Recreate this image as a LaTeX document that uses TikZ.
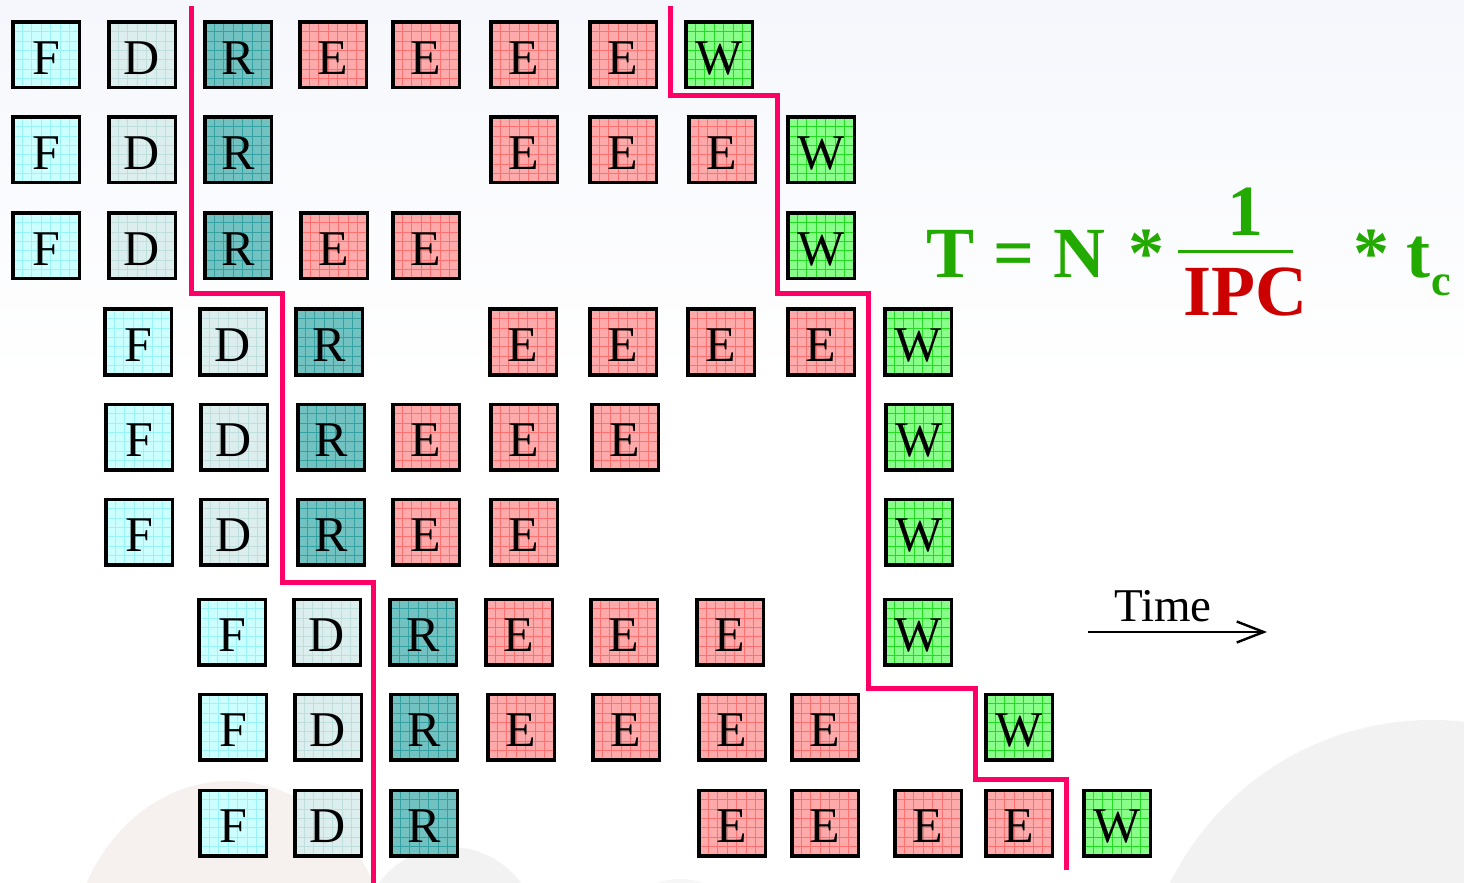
\documentclass[tikz,border=0pt]{standalone}
\usepackage{fontspec}
\setmainfont{Liberation Serif}
\usetikzlibrary{calc,arrows.meta}
\definecolor{fcol}{HTML}{CCFFFF}\definecolor{fgrid}{HTML}{99F4F8}
\definecolor{dcol}{HTML}{DDEEEE}\definecolor{dgrid}{HTML}{BFDEDE}
\definecolor{rcol}{HTML}{72C2C2}\definecolor{rgrid}{HTML}{34A2A2}
\definecolor{ecol}{HTML}{FFAAAA}\definecolor{egrid}{HTML}{FF7070}
\definecolor{wcol}{HTML}{88FF88}\definecolor{wgrid}{HTML}{22DD22}
\definecolor{divline}{HTML}{FF0066}
\definecolor{fgreen}{HTML}{22AA00}
\definecolor{fred}{HTML}{CC0000}
\definecolor{bgtop}{HTML}{F5F7FC}
\definecolor{bgred}{HTML}{F6F0EE}
\definecolor{bggrey}{HTML}{F2F2F2}
\tikzset{
  stg/.style 2 args={draw=black, line width=1.75pt, fill=#1,
    minimum width=33.25pt, minimum height=32.75pt, inner sep=0pt,
    text height=19.5pt, text depth=0pt,
    font=\fontsize{25}{25}\selectfont,
    path picture={
      \foreach \i in {1,...,6}{
        \draw[draw=#2, line width=0.45pt]
          ($(path picture bounding box.north west)!\i/7!(path picture bounding box.north east)$) --
          ($(path picture bounding box.south west)!\i/7!(path picture bounding box.south east)$);
        \draw[draw=#2, line width=0.45pt]
          ($(path picture bounding box.north west)!\i/7!(path picture bounding box.south west)$) --
          ($(path picture bounding box.north east)!\i/7!(path picture bounding box.south east)$);
      }}},
  fstage/.style={stg={fcol}{fgrid}},
  dstage/.style={stg={dcol}{dgrid}},
  rstage/.style={stg={rcol}{rgrid}},
  estage/.style={stg={ecol}{egrid}},
  wstage/.style={stg={wcol}{wgrid}},
  divider/.style={draw=divline, line width=2.5pt, line join=miter},
  formula/.style={inner sep=0pt, font=\fontsize{36}{36}\selectfont\bfseries, text=fgreen},
}
\begin{document}
\begin{tikzpicture}[x=0.5pt,y=-0.5pt]
\useasboundingbox (0,0) rectangle (1464,883);
\clip (0,0) rectangle (1464,883);
% background
\fill[white] (0,0) rectangle (1464,883);
\begin{scope}[yscale=-1]
  \shade[top color=bgtop, bottom color=white] (0,0) rectangle (1464,-380);
\end{scope}
\fill[bgred] (230,965) ellipse [x radius=80pt, y radius=92pt];
\fill[bggrey] (450,935) circle [radius=44pt];
\fill[bggrey!70!white] (680,945) circle [radius=33pt];
\fill[bggrey] (1432,1012) circle [radius=146pt];

% row 1
\node[fstage] (r1f) at (46,55) {F};
\node[dstage] (r1d) at (142,55) {D};
\node[rstage] (r1r) at (238,55) {R};
\node[estage] (r1e1) at (333,55) {E};
\node[estage] (r1e2) at (426,55) {E};
\node[estage] (r1e3) at (524,55) {E};
\node[estage] (r1e4) at (623,55) {E};
\node[wstage] (r1w) at (719,55) {W};
% row 2
\node[fstage] (r2f) at (46,150) {F};
\node[dstage] (r2d) at (142,150) {D};
\node[rstage] (r2r) at (238,150) {R};
\node[estage] (r2e1) at (524,150) {E};
\node[estage] (r2e2) at (623,150) {E};
\node[estage] (r2e3) at (722,150) {E};
\node[wstage] (r2w) at (821,150) {W};
% row 3
\node[fstage] (r3f) at (46,246) {F};
\node[dstage] (r3d) at (142,246) {D};
\node[rstage] (r3r) at (238,246) {R};
\node[estage] (r3e1) at (334,246) {E};
\node[estage] (r3e2) at (426,246) {E};
\node[wstage] (r3w) at (821,246) {W};
% row 4
\node[fstage] (r4f) at (138,342) {F};
\node[dstage] (r4d) at (233,342) {D};
\node[rstage] (r4r) at (329,342) {R};
\node[estage] (r4e1) at (523,342) {E};
\node[estage] (r4e2) at (623,342) {E};
\node[estage] (r4e3) at (721,342) {E};
\node[estage] (r4e4) at (821,342) {E};
\node[wstage] (r4w) at (918,342) {W};
% row 5
\node[fstage] (r5f) at (139,437) {F};
\node[dstage] (r5d) at (234,437) {D};
\node[rstage] (r5r) at (331,437) {R};
\node[estage] (r5e1) at (426,437) {E};
\node[estage] (r5e2) at (524,437) {E};
\node[estage] (r5e3) at (625,437) {E};
\node[wstage] (r5w) at (919,437) {W};
% row 6
\node[fstage] (r6f) at (139,532) {F};
\node[dstage] (r6d) at (234,532) {D};
\node[rstage] (r6r) at (331,532) {R};
\node[estage] (r6e1) at (426,532) {E};
\node[estage] (r6e2) at (524,532) {E};
\node[wstage] (r6w) at (919,532) {W};
% row 7
\node[fstage] (r7f) at (232,632) {F};
\node[dstage] (r7d) at (327,632) {D};
\node[rstage] (r7r) at (423,632) {R};
\node[estage] (r7e1) at (519,632) {E};
\node[estage] (r7e2) at (624,632) {E};
\node[estage] (r7e3) at (730,632) {E};
\node[wstage] (r7w) at (918,632) {W};
% row 8
\node[fstage] (r8f) at (233,727) {F};
\node[dstage] (r8d) at (328,727) {D};
\node[rstage] (r8r) at (424,727) {R};
\node[estage] (r8e1) at (521,727) {E};
\node[estage] (r8e2) at (626,727) {E};
\node[estage] (r8e3) at (732,727) {E};
\node[estage] (r8e4) at (825,727) {E};
\node[wstage] (r8w) at (1019,727) {W};
% row 9
\node[fstage] (r9f) at (233,823) {F};
\node[dstage] (r9d) at (328,823) {D};
\node[rstage] (r9r) at (424,823) {R};
\node[estage] (r9e1) at (732,823) {E};
\node[estage] (r9e2) at (825,823) {E};
\node[estage] (r9e3) at (928,823) {E};
\node[estage] (r9e4) at (1019,823) {E};
\node[wstage] (r9w) at (1117,823) {W};

% divider lines
\coordinate (la) at (191,6);
\coordinate (lb) at (373,883);
\coordinate (lc) at (670,6);
\coordinate (ld) at (1066,870);
\draw[divider] (la) -- (191,293.5) -- (282,293.5) -- (282,582.5) -- (373,582.5) -- (lb);
\draw[divider] (lc) -- (670,96) -- (777,96) -- (777,293.5) -- (868,293.5) -- (868,688) -- (975,688) -- (975,779) -- (1066,779) -- (ld);

% formula
\node[formula, anchor=base west] (fT) at (926,278) {T};
\node[formula, anchor=base] (feq) at (1014,278) {=};
\node[formula, anchor=base west] (fN) at (1053,278) {N};
\node[formula, anchor=base west] (fs1) at (1128,278) {*};
\node[formula, anchor=base] (fone) at (1245,235) {1};
\node[formula, anchor=base, text=fred] (fipc) at (1245,315) {IPC};
\coordinate (fbl) at (1178,251.5);
\coordinate (fbr) at (1293,251.5);
\draw[fgreen, line width=1.5pt] (fbl) -- (fbr);
\node[formula, anchor=base west] (fs2) at (1353,278) {*};
\node[formula, anchor=base west] (ft) at (1406,278) {t};
\node[formula, anchor=base west, font=\fontsize{22}{22}\selectfont\bfseries] (fc) at (1431,295) {c};

% time arrow
\node[inner sep=0pt, anchor=base, font=\fontsize{23.5}{23.5}\selectfont] (time) at (1163,621) {Time};
\coordinate (ta) at (1088,632);
\coordinate (tb) at (1267,632);
\draw[line width=1.2pt, -{Straight Barb[length=13.5pt,width=10.5pt]}] (ta) -- (tb);
\end{tikzpicture}
\end{document}
